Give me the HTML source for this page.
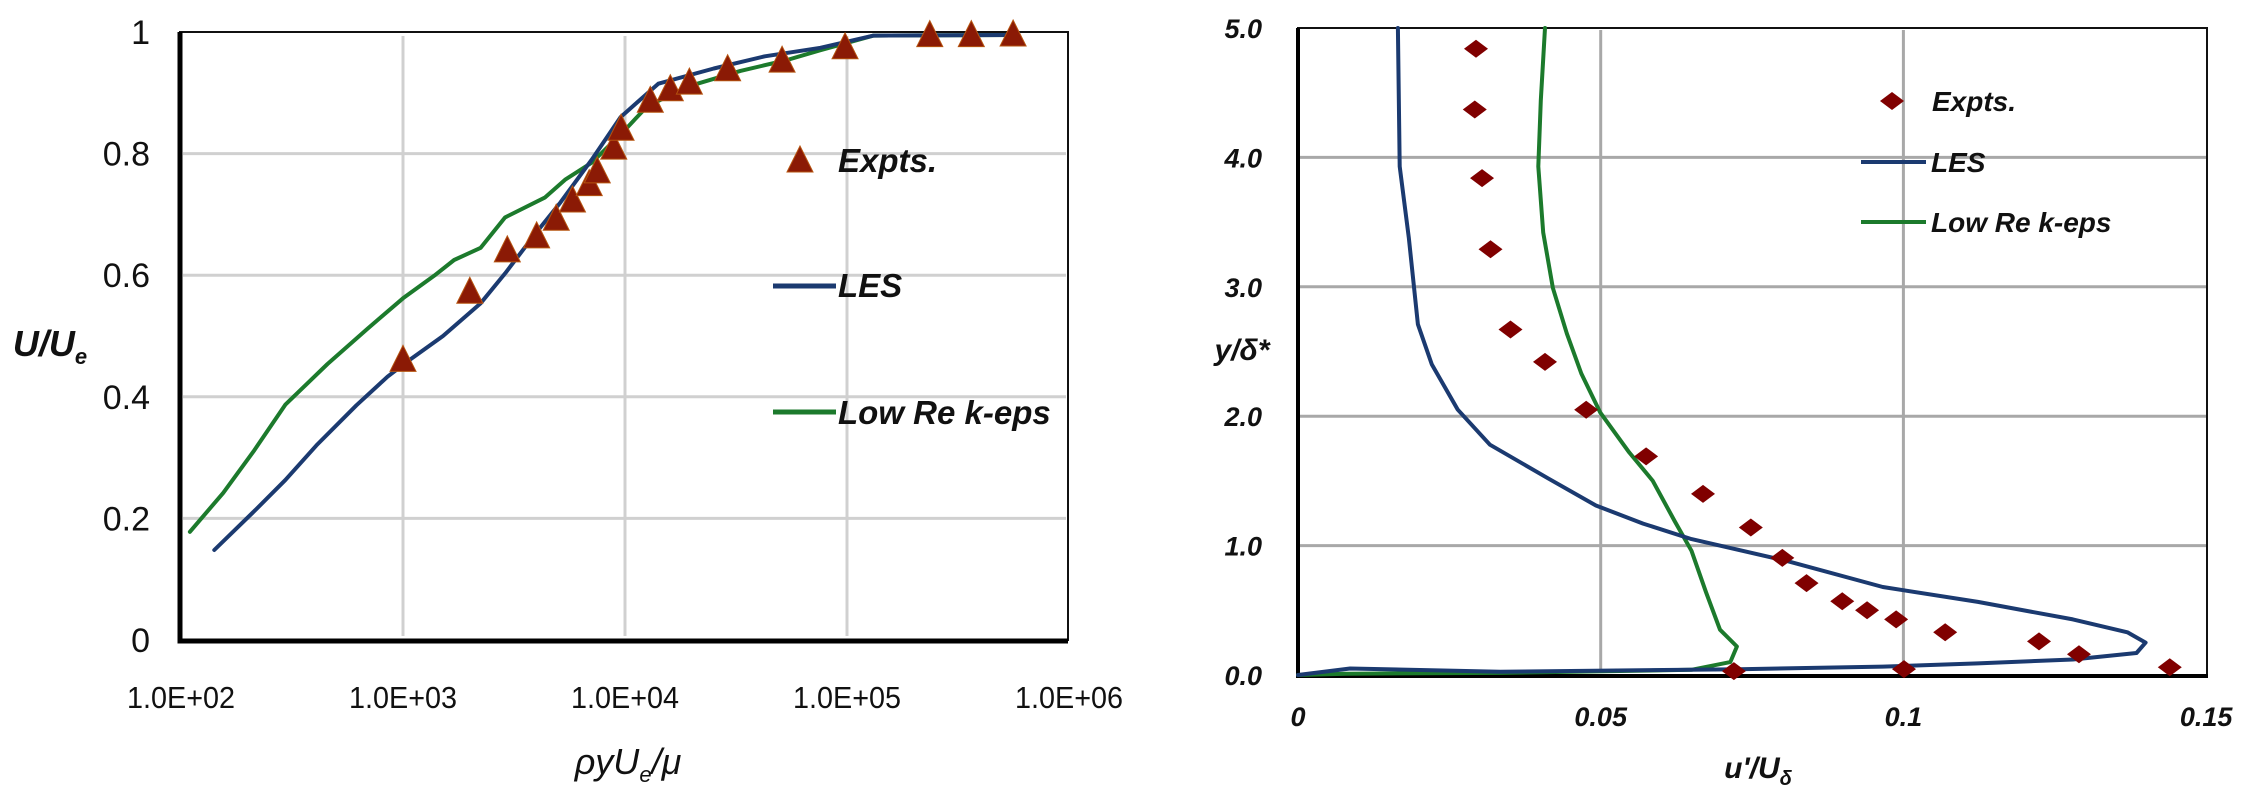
<!DOCTYPE html>
<html><head><meta charset="utf-8"><style>
html,body{margin:0;padding:0;background:#fff;}
svg{display:block;}
text{font-family:"Liberation Sans",sans-serif;}
</style></head><body>
<svg id="fig" width="2250" height="793" viewBox="0 0 2250 793" xmlns="http://www.w3.org/2000/svg">
<g id="left"></g>
<g id="right"></g>
</svg>
<script>
// ---- Left chart data ----
const leftXTicks = [2, 3, 4, 5, 6];
const leftXTickLabels = ["1.0E+02", "1.0E+03", "1.0E+04", "1.0E+05", "1.0E+06"];
const leftYTicks = [0, 0.2, 0.4, 0.6, 0.8, 1];
const leftYTickLabels = ["0", "0.2", "0.4", "0.6", "0.8", "1"];
const exptX = [1000, 2000, 2950, 4000, 4900, 5800, 6900, 7500, 8900, 9600, 13000, 16000, 19500, 29000, 51000, 98000, 236000, 363000, 560000];
const exptY = [0.46, 0.572, 0.64, 0.663, 0.692, 0.722, 0.749, 0.77, 0.809, 0.84, 0.886, 0.905, 0.916, 0.938, 0.952, 0.974, 0.994, 0.994, 0.995];
const lesLogX = [2.15, 2.33, 2.47, 2.61, 2.79, 2.93, 3.02, 3.18, 3.35, 3.46, 3.60, 3.71, 3.85, 3.98, 4.15, 4.40, 4.63, 4.88, 5.12, 5.75];
const lesY = [0.148, 0.212, 0.263, 0.32, 0.386, 0.433, 0.458, 0.5, 0.554, 0.603, 0.67, 0.72, 0.79, 0.86, 0.915, 0.94, 0.96, 0.974, 0.994, 0.995];
const kepsLogX = [2.04, 2.19, 2.33, 2.47, 2.66, 2.84, 3.0, 3.14, 3.23, 3.35, 3.46, 3.64, 3.73, 3.85, 3.99, 4.10, 4.29, 4.52, 4.73, 4.88, 5.12, 5.75];
const kepsY = [0.178, 0.242, 0.312, 0.387, 0.454, 0.512, 0.562, 0.599, 0.625, 0.645, 0.695, 0.728, 0.757, 0.785, 0.835, 0.878, 0.911, 0.936, 0.954, 0.97, 0.994, 0.995];

// ---- Right chart data ----
const rightXTicks = [0, 0.05, 0.1, 0.15];
const rightXTickLabels = ["0", "0.05", "0.1", "0.15"];
const rightYTicks = [0, 1, 2, 3, 4, 5];
const rightYTickLabels = ["0.0", "1.0", "2.0", "3.0", "4.0", "5.0"];
const rExpX = [0.0294, 0.0292, 0.0304, 0.0318, 0.0351, 0.0408, 0.0476, 0.0575, 0.0669, 0.0748, 0.08, 0.084, 0.0899, 0.094, 0.0988, 0.1069, 0.1224, 0.129, 0.144, 0.1001, 0.072];
const rExpY = [4.84, 4.37, 3.84, 3.29, 2.67, 2.42, 2.05, 1.69, 1.40, 1.14, 0.905, 0.71, 0.57, 0.50, 0.43, 0.33, 0.26, 0.16, 0.06, 0.045, 0.03];
const rLesX = [0.0165, 0.0168, 0.0183, 0.0198, 0.0221, 0.0264, 0.0317, 0.0413, 0.0492, 0.057, 0.065, 0.0808, 0.0966, 0.1123, 0.128, 0.137, 0.140, 0.1385, 0.128, 0.1123, 0.0966, 0.0729, 0.0334, 0.0086, 0];
const rLesY = [5.0, 3.93, 3.38, 2.71, 2.40, 2.05, 1.78, 1.52, 1.31, 1.17, 1.05, 0.88, 0.68, 0.565, 0.43, 0.33, 0.25, 0.17, 0.12, 0.09, 0.065, 0.045, 0.025, 0.05, 0];
const rKepsX = [0.0408, 0.0401, 0.0397, 0.0405, 0.0421, 0.0444, 0.0468, 0.0499, 0.0547, 0.0586, 0.0622, 0.065, 0.0674, 0.0697, 0.0725, 0.0714, 0.065, 0.0334, 0.008, 0];
const rKepsY = [5.0, 4.44, 3.93, 3.42, 2.99, 2.64, 2.33, 2.03, 1.72, 1.50, 1.19, 0.96, 0.64, 0.35, 0.22, 0.10, 0.04, 0.016, 0.01, 0];

const NS = "http://www.w3.org/2000/svg";
function mk(parent, tag, attrs, txt) {
  const el = document.createElementNS(NS, tag);
  for (const k in attrs) el.setAttribute(k, attrs[k]);
  if (txt !== undefined) el.textContent = txt;
  parent.appendChild(el);
  return el;
}
function sub(textEl, parts) {
  // parts: [text, fontSize|null, dy]
  parts.forEach(p => {
    const t = mk(textEl, 'tspan', {}, p[0]);
    if (p[1]) t.setAttribute('font-size', p[1]);
    if (p[2]) t.setAttribute('dy', p[2]);
  });
}

// ---- Left chart ----
const L = document.getElementById('left');
const lx = v => 181 + 222 * (v - 2);
const ly = v => 640 - 608 * v;
leftXTicks.forEach((t, i) => {
  if (i > 0 && i < leftXTicks.length - 1) {
    const g = mk(L, 'line', {x1: lx(t), x2: lx(t), y1: 36, y2: 636, stroke: '#d0d0d0', 'stroke-width': 3});
    
    
  }
  const tl = mk(L, 'text', {x: lx(t), y: 708, 'font-size': 31, 'text-anchor': 'middle', fill: '#111', textLength: 108, lengthAdjust: 'spacingAndGlyphs'}, leftXTickLabels[i]);
  
  
});
leftYTicks.forEach((t, i) => {
  if (i > 0 && i < leftYTicks.length - 1) {
    const g = mk(L, 'line', {x1: 183, x2: 1066, y1: ly(t), y2: ly(t), stroke: '#d0d0d0', 'stroke-width': 3});
    
    
  }
  const tl = mk(L, 'text', {x: 150, y: ly(t) + 12, 'font-size': 34, 'text-anchor': 'end', fill: '#111'}, leftYTickLabels[i]);
  
  
});
let e = mk(L, 'path', {d: 'M180,32 H1068 V640 H180 Z', fill: 'none', stroke: '#111', 'stroke-width': 2});


e = mk(L, 'path', {d: 'M180,32 V641 H1068', fill: 'none', stroke: '#000', 'stroke-width': 5});



function poly(parent, xs, ys, fx, fy, color, name) {
  const pts = xs.map((v, i) => fx(v).toFixed(1) + ',' + fy(ys[i]).toFixed(1)).join(' ');
  const p = mk(parent, 'polyline', {points: pts, fill: 'none', stroke: color, 'stroke-width': 4, 'stroke-linejoin': 'round', 'stroke-linecap': 'round'});
  
  
}
poly(L, kepsLogX, kepsY, lx, ly, '#1c7a2c', 'low-re-k-eps-line');
poly(L, lesLogX, lesY, lx, ly, '#1b3a70', 'les-line');
exptX.forEach((v, i) => {
  const cx = lx(Math.log10(v)), cy = ly(exptY[i]);
  const t = mk(L, 'polygon', {points: (cx) + ',' + (cy - 15) + ' ' + (cx - 13) + ',' + (cy + 11) + ' ' + (cx + 13) + ',' + (cy + 11), fill: '#8b1a05', stroke: '#b5530f', 'stroke-width': 1});
  
  
});
e = mk(L, 'polygon', {points: '800,146 787,172 813,172', fill: '#8b1a05', stroke: '#b5530f', 'stroke-width': 1});


e = mk(L, 'text', {x: 838, y: 172, 'font-size': 33, 'font-weight': 'bold', 'font-style': 'italic', fill: '#111'}, 'Expts.');


e = mk(L, 'line', {x1: 773, x2: 836, y1: 286, y2: 286, stroke: '#1b3a70', 'stroke-width': 5});


e = mk(L, 'text', {x: 838, y: 297, 'font-size': 33, 'font-weight': 'bold', 'font-style': 'italic', fill: '#111'}, 'LES');


e = mk(L, 'line', {x1: 773, x2: 836, y1: 412, y2: 412, stroke: '#1c7a2c', 'stroke-width': 5});


e = mk(L, 'text', {x: 838, y: 424, 'font-size': 33, 'font-weight': 'bold', 'font-style': 'italic', fill: '#111'}, 'Low Re k-eps');


e = mk(L, 'text', {x: 50, y: 356, 'font-size': 36, 'font-weight': 'bold', 'font-style': 'italic', 'text-anchor': 'middle', fill: '#111'});


sub(e, [['U/U', null, null], ['e', 22, 8]]);
e = mk(L, 'text', {x: 628, y: 774, 'font-size': 36, 'font-style': 'italic', 'text-anchor': 'middle', fill: '#111'});


sub(e, [['\u03C1yU', null, null], ['e', 22, 8], ['/\u03BC', null, -8]]);

// ---- Right chart ----
const R = document.getElementById('right');
const rx = v => 1298 + 6054 * v;
const ry = v => 675 - 129.4 * v;
rightXTicks.forEach((t, i) => {
  if (i > 0 && i < rightXTicks.length - 1) {
    const g = mk(R, 'line', {x1: rx(t), x2: rx(t), y1: 30, y2: 673, stroke: '#a8a8a8', 'stroke-width': 3});
    
    
  }
  const tl = mk(R, 'text', {x: rx(t), y: 726, 'font-size': 27, 'font-weight': 'bold', 'font-style': 'italic', 'text-anchor': 'middle', fill: '#111'}, rightXTickLabels[i]);
  
  
});
rightYTicks.forEach((t, i) => {
  if (i > 0 && i < rightYTicks.length - 1) {
    const g = mk(R, 'line', {x1: 1300, x2: 2206, y1: ry(t), y2: ry(t), stroke: '#a8a8a8', 'stroke-width': 3});
    
    
  }
  const tl = mk(R, 'text', {x: 1262, y: ry(t) + 10, 'font-size': 27, 'font-weight': 'bold', 'font-style': 'italic', 'text-anchor': 'end', fill: '#111'}, rightYTickLabels[i]);
  
  
});
e = mk(R, 'path', {d: 'M1298,28 H2207 V675 H1298 Z', fill: 'none', stroke: '#111', 'stroke-width': 2});


e = mk(R, 'path', {d: 'M1298,28 V676 H2208', fill: 'none', stroke: '#000', 'stroke-width': 4});


poly(R, rKepsX, rKepsY, rx, ry, '#1c7a2c', 'low-re-k-eps-line');
poly(R, rLesX, rLesY, rx, ry, '#1b3a70', 'les-line');
rExpX.forEach((v, i) => {
  const cx = rx(v), cy = ry(rExpY[i]);
  const d = mk(R, 'polygon', {points: cx + ',' + (cy - 9) + ' ' + (cx + 12) + ',' + cy + ' ' + cx + ',' + (cy + 9) + ' ' + (cx - 12) + ',' + cy, fill: '#800000'});
  
  
});
e = mk(R, 'polygon', {points: '1892,92 1904,101 1892,110 1880,101', fill: '#800000'});


e = mk(R, 'text', {x: 1932, y: 111, 'font-size': 28, 'font-weight': 'bold', 'font-style': 'italic', fill: '#111'}, 'Expts.');


e = mk(R, 'line', {x1: 1861, x2: 1926, y1: 162, y2: 162, stroke: '#1b3a70', 'stroke-width': 4});


e = mk(R, 'text', {x: 1931, y: 172, 'font-size': 28, 'font-weight': 'bold', 'font-style': 'italic', fill: '#111'}, 'LES');


e = mk(R, 'line', {x1: 1861, x2: 1926, y1: 222, y2: 222, stroke: '#1c7a2c', 'stroke-width': 4});


e = mk(R, 'text', {x: 1931, y: 232, 'font-size': 28, 'font-weight': 'bold', 'font-style': 'italic', fill: '#111'}, 'Low Re k-eps');


e = mk(R, 'text', {x: 1242, y: 360, 'font-size': 30, 'font-weight': 'bold', 'font-style': 'italic', 'text-anchor': 'middle', fill: '#111'}, 'y/\u03B4*');


e = mk(R, 'text', {x: 1758, y: 778, 'font-size': 30, 'font-weight': 'bold', 'font-style': 'italic', 'text-anchor': 'middle', fill: '#111'});


sub(e, [["u'/U", null, null], ['\u03B4', 20, 7]]);
</script>
</body></html>
